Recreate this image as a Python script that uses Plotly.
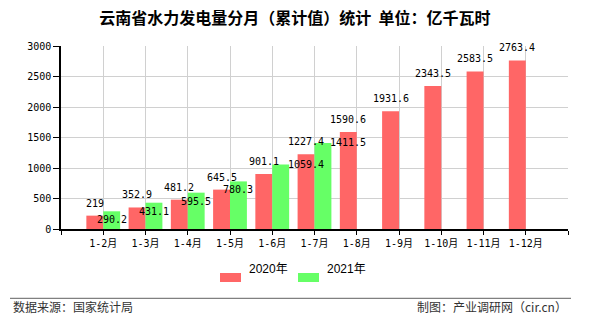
import plotly.graph_objects as go

# Cumulative hydropower generation, Yunnan (100 million kWh)
months = ["1-2月", "1-3月", "1-4月", "1-5月", "1-6月", "1-7月",
          "1-8月", "1-9月", "1-10月", "1-11月", "1-12月"]
series_2020 = [219, 352.9, 481.2, 645.5, 901.1, 1227.4,
               1590.6, 1931.6, 2343.5, 2583.5, 2763.4]
series_2021 = [290.2, 431.1, 595.5, 780.3, 1059.4, 1411.5]
names = ["2020年", "2021年"]
colors = ["#ff6666", "#66ff66"]
y_ticks = [0, 500, 1000, 1500, 2000, 2500, 3000]

W, H = 590, 330
L, R, T, B = 61, 22, 46, 101
PW, PH = W - L - R, H - T - B


def px(x):
    return (x - L) / PW


def py(y):
    return (H - B - y) / PH


pos = list(range(1, len(months) + 1))
fig = go.Figure()
fig.add_trace(go.Bar(x=pos, y=series_2020, name=names[0],
                     marker=dict(color=colors[0], line=dict(width=0))))
fig.add_trace(go.Bar(x=pos[:len(series_2021)], y=series_2021, name=names[1],
                     marker=dict(color=colors[1], line=dict(width=0))))

label_font = dict(family="DejaVu Sans Mono", size=10, color="#000000")
ann = []
for x, v in zip(pos, series_2020):
    ann.append(dict(x=x - 0.2, y=v, xref="x", yref="y", text=f"{v:g}",
                    showarrow=False, yshift=12.5, font=label_font))
# labels that would collide are nudged aside
nudge = {4: (25, 0), 5: (25, 0)}
for i, (x, v) in enumerate(zip(pos, series_2021)):
    dx, dy = nudge.get(i, (0, -8.5))
    ann.append(dict(x=x + 0.2, y=v, xref="x", yref="y", text=f"{v:g}",
                    showarrow=False, xshift=dx, yshift=dy, font=label_font))

# legend drawn by hand: wide flat swatches
shapes = []
legend_items = [(220, 246.5), (298, 325)]
for (sx, tx), name, c in zip(legend_items, names, colors):
    shapes.append(dict(type="rect", xref="paper", yref="paper",
                       x0=px(sx), x1=px(sx + 21), y0=py(273), y1=py(282),
                       fillcolor=c, line=dict(width=0)))
    ann.append(dict(x=px(tx), y=py(278), xref="paper", yref="paper",
                    text=name, showarrow=False, xanchor="left",
                    font=dict(family="Liberation Sans, Noto Sans CJK SC",
                              size=12, color="#000000")))

# footer rule and source lines
shapes.append(dict(type="line", xref="paper", yref="paper",
                   x0=px(10), x1=px(571), y0=py(298.3), y1=py(298.3),
                   line=dict(color="#808080", width=1.3)))
foot_font = dict(family="Noto Sans CJK SC", size=12, color="#333333")
ann.append(dict(x=px(11), y=py(317), xref="paper", yref="paper",
                text="数据来源：国家统计局", showarrow=False,
                xanchor="left", font=foot_font))
ann.append(dict(x=px(569), y=py(317), xref="paper", yref="paper",
                text="制图：产业调研网（cir.cn）", showarrow=False,
                xanchor="right", font=foot_font))

tick_font = dict(family="DejaVu Sans Mono, Noto Sans CJK SC", size=10,
                 color="#000000")
fig.update_layout(
    width=W, height=H,
    margin=dict(l=L, r=R, t=T, b=B, pad=0),
    paper_bgcolor="#ffffff", plot_bgcolor="#ffffff",
    barmode="group", bargap=0.2, bargroupgap=0,
    showlegend=False,
    title=dict(text="云南省水力发电量分月（累计值）统计  单位：亿千瓦时",
               x=0.5, xref="container", xanchor="center",
               y=1 - 18 / H, yref="container", yanchor="middle",
               font=dict(family="Noto Sans CJK SC", size=16,
                         color="#000000", weight="bold")),
    xaxis=dict(range=[0, len(months) + 1],
               tickvals=list(range(0, len(months) + 2)),
               ticktext=[""] + months + [""],
               showgrid=True, gridcolor="#d0d0d0", gridwidth=1,
               showline=True, linecolor="#000000", linewidth=1.5,
               ticks="outside", ticklen=4, tickcolor="#000000",
               tickfont=tick_font, zeroline=False),
    yaxis=dict(range=[0, 3000], tickvals=y_ticks,
               showgrid=True, gridcolor="#d0d0d0", gridwidth=1,
               showline=True, linecolor="#000000", linewidth=1.5,
               ticks="outside", ticklen=6, tickcolor="#000000",
               tickfont=tick_font, zeroline=False),
    annotations=ann,
    shapes=shapes,
)

fig.write_html("out.html")
